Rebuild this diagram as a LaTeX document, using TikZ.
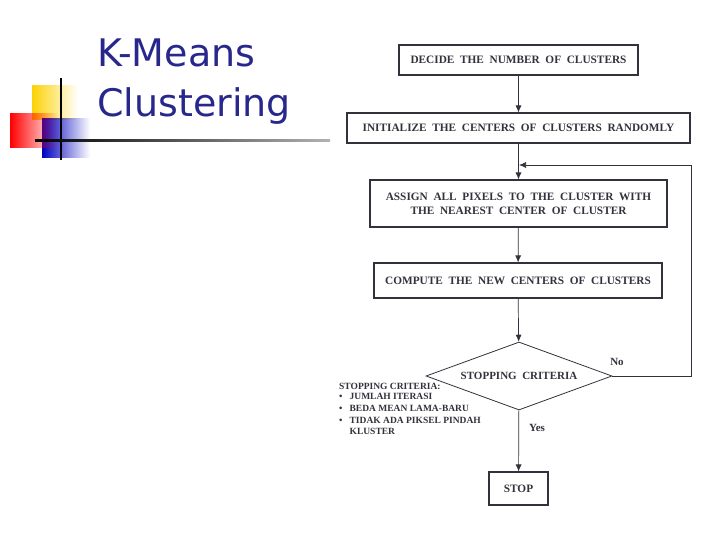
\documentclass[tikz,border=0pt]{standalone}
\usepackage{fontspec}
\setmainfont{Liberation Serif}
\newfontfamily\titlefont{DejaVu Sans}
\usetikzlibrary{arrows.meta,shapes.geometric,fadings}
\definecolor{navy}{RGB}{40,40,140}
\definecolor{ink}{RGB}{50,50,60}
\begin{document}
\begin{tikzpicture}[x=1pt,y=-1pt,
 box/.style={draw=ink,line width=1.1pt,inner sep=0pt,font=\bfseries\fontsize{11.3}{14}\selectfont,text=ink,align=center},
 arr/.style={draw=ink,line width=0.7pt,-{Latex[length=7pt,width=6pt]}},
 lbl/.style={font=\bfseries\fontsize{11}{13}\selectfont,text=ink}]
\useasboundingbox (0,0) rectangle (720,540);
% decoration
\fill[yellow!70!orange,path fading=east] (32,85) rectangle (78,120);
\fill[blue!75!black,path fading=east] (42,118) rectangle (90,158);
\fill[red,path fading=east] (10,113) rectangle (58,148);
\draw[line width=1.5pt] (61,78) -- (61,160);
\shade[left color=black,right color=black!30] (35,140) rectangle (330,142);
\node[anchor=base west,inner sep=0,text=navy,font=\titlefont\fontsize{38}{44}\selectfont] (t1) at (97,67) {K-Means};
\node[anchor=base west,inner sep=0,text=navy,font=\titlefont\fontsize{38}{44}\selectfont] (t2) at (97,117) {Clustering};
% flowchart
\node[box,minimum width=239,minimum height=30] (b1) at (518.5,60) {DECIDE\ \ THE\ \ NUMBER\ \ OF\ \ CLUSTERS};
\node[box,minimum width=343,minimum height=30] (b2) at (518.5,128) {INITIALIZE\ \ THE\ \ CENTERS\ \ OF\ \ CLUSTERS\ \ RANDOMLY};
\node[box,minimum width=297,minimum height=47] (b3) at (518.5,203.5) {ASSIGN\ \ ALL\ \ PIXELS\ \ TO\ \ THE\ \ CLUSTER\ \ WITH\\THE\ \ NEAREST\ \ CENTER\ \ OF\ \ CLUSTER};
\node[box,minimum width=288,minimum height=35] (b4) at (518,280.5) {COMPUTE\ \ THE\ \ NEW\ \ CENTERS\ \ OF\ \ CLUSTERS};
\node[draw=ink,line width=0.8pt,diamond,aspect=2.75,minimum width=186,minimum height=68,inner sep=0pt,font=\bfseries\fontsize{11}{13}\selectfont,text=ink] (d) at (519,376) {STOPPING\ \ CRITERIA};
\node[box,minimum width=59,minimum height=33] (st) at (518.5,488.5) {STOP};
\draw[arr] (b1) -- (b2);
\draw[arr] (b2) -- (b3);
\draw[arr] (b3) -- (b4);
\draw[arr] (b4) -- (d);
\draw[arr] (d) -- (st);
\coordinate (fb) at (519,165);
\draw[arr] (d.east) -- (691,376) -- (691,165) -- (fb);
\node[lbl] (no) at (617,362) {No};
\node[lbl] (yes) at (537,428) {Yes};
\node[anchor=north west,inner sep=0,align=left,font=\bfseries\fontsize{9.5}{10.5}\selectfont,text=ink] (crit) at (339,383)
 {STOPPING CRITERIA:\\
 \textbullet\ \ \ JUMLAH ITERASI\\[1.5pt]
 \textbullet\ \ \ BEDA MEAN LAMA-BARU\\[1.5pt]
 \textbullet\ \ \ TIDAK ADA PIKSEL PINDAH\\
 \hphantom{\textbullet\ \ \ }KLUSTER};
\end{tikzpicture}
\end{document}
